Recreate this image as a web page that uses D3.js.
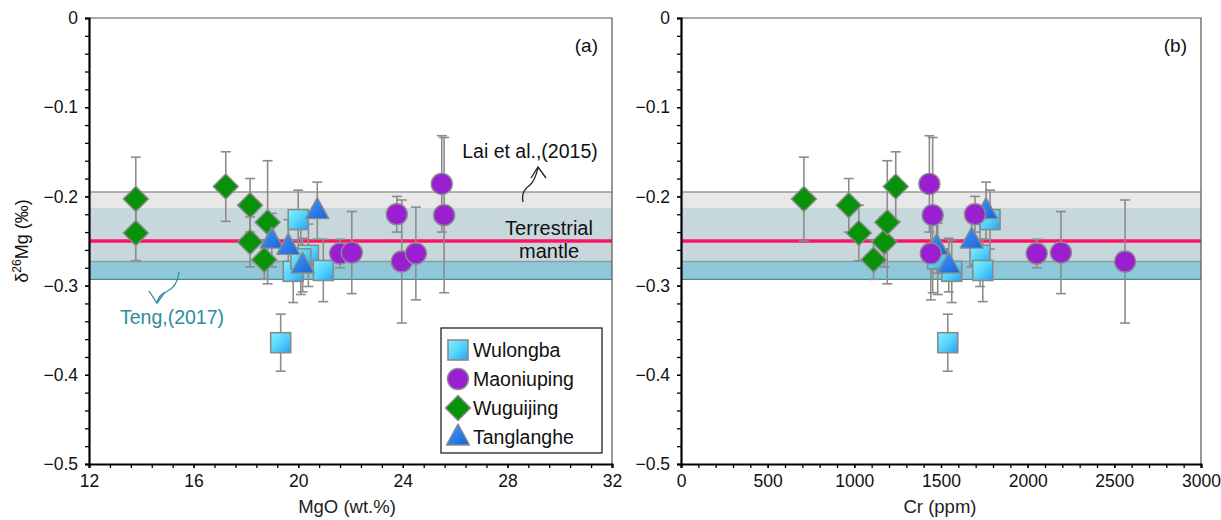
<!DOCTYPE html>
<html>
<head>
<meta charset="utf-8">
<script src="https://cdn.jsdelivr.net/npm/d3@7"></script>
<style>
  html, body { margin: 0; padding: 0; background: #fff; }
  svg { display: block; }
  text { font-family: "Liberation Sans", Arial, sans-serif; }
</style>
</head>
<body>
<svg id="chart" width="1221" height="520"></svg>
<script>
// δ26Mg versus MgO (a) and Cr (b) for four intrusions
const wulongbaMgO = [20.00, 20.39, 19.81, 20.96, 19.33, 20.10];
const wulongbaCr  = [1783, 1725, 1562, 1741, 1539, 1481];
const wulongbaD   = [-0.226, -0.266, -0.284, -0.283, -0.364, -0.270];
const wulongbaErr = [0.033, 0.035, 0.035, 0.035, 0.032, 0.040];

const maoniupingMgO = [25.49, 25.58, 23.77, 23.96, 24.50, 21.60, 22.05];
const maoniupingCr  = [1433, 1452, 1696, 2562, 1441, 2052, 2192];
const maoniupingD   = [-0.186, -0.221, -0.220, -0.273, -0.264, -0.264, -0.263];
const maoniupingErr = [0.054, 0.087, 0.020, 0.069, 0.052, 0.016, 0.046];

const wuguijingMgO = [13.79, 13.79, 17.23, 18.16, 18.16, 18.83, 18.70];
const wuguijingCr  = [709, 1026, 1239, 968, 1173, 1190, 1111];
const wuguijingD   = [-0.203, -0.241, -0.189, -0.210, -0.251, -0.229, -0.271];
const wuguijingErr = [0.047, 0.031, 0.039, 0.030, 0.028, 0.069, 0.022];

const tanglangheMgO = [20.73, 18.99, 19.62, 20.17];
const tanglangheCr  = [1760, 1677, 1475, 1545];
const tanglangheD   = [-0.216, -0.249, -0.256, -0.277];
const tanglangheErr = [0.032, 0.030, 0.030, 0.030];

// reference mantle ranges
const laiRange  = [-0.195, -0.273];   // Lai et al. (2015)
const tengRange = [-0.213, -0.293];   // Teng (2017)
const mantleMean = -0.25;

const seriesNames = ["Wulongba", "Maoniuping", "Wuguijing", "Tanglanghe"];
const yTicks = [0, -0.1, -0.2, -0.3, -0.4, -0.5];
const mgoTicks = [12, 16, 20, 24, 28, 32];
const crTicks = [0, 500, 1000, 1500, 2000, 2500, 3000];

const svg = d3.select("#chart");
const defs = svg.append("defs");

const gSq = defs.append("linearGradient").attr("id", "gradSquare")
  .attr("x1", "0%").attr("y1", "0%").attr("x2", "100%").attr("y2", "100%");
gSq.append("stop").attr("offset", "0%").attr("stop-color", "#86f2ff");
gSq.append("stop").attr("offset", "55%").attr("stop-color", "#4fd0fb");
gSq.append("stop").attr("offset", "100%").attr("stop-color", "#2a9fef");

const gTri = defs.append("linearGradient").attr("id", "gradTri")
  .attr("x1", "0%").attr("y1", "0%").attr("x2", "100%").attr("y2", "100%");
gTri.append("stop").attr("offset", "0%").attr("stop-color", "#3f9cf6");
gTri.append("stop").attr("offset", "100%").attr("stop-color", "#1a62da");

const plotTop = 18, plotBottom = 464;
const y = d3.scaleLinear().domain([-0.5, 0]).range([plotBottom, plotTop]);

function buildSeries(xs) {
  return [
    { name: "Wulongba", xv: xs[0], d: wulongbaD, err: wulongbaErr, shape: "square" },
    { name: "Wuguijing", xv: xs[2], d: wuguijingD, err: wuguijingErr, shape: "diamond" },
    { name: "Tanglanghe", xv: xs[3], d: tanglangheD, err: tanglangheErr, shape: "triangle" },
    { name: "Maoniuping", xv: xs[1], d: maoniupingD, err: maoniupingErr, shape: "circle" }
  ];
}

function drawMarker(g, shape, cx, cy) {
  const stroke = "#8a8a8a";
  if (shape === "square") {
    g.append("rect").attr("x", cx - 10).attr("y", cy - 10).attr("width", 20).attr("height", 20)
      .attr("fill", "url(#gradSquare)").attr("stroke", stroke).attr("stroke-width", 1.6);
  } else if (shape === "circle") {
    g.append("circle").attr("cx", cx).attr("cy", cy).attr("r", 10.5)
      .attr("fill", "#9a1fd2").attr("stroke", stroke).attr("stroke-width", 1.4);
  } else if (shape === "diamond") {
    const r = 12.5;
    g.append("path").attr("d", `M${cx},${cy - r}L${cx + r},${cy}L${cx},${cy + r}L${cx - r},${cy}Z`)
      .attr("fill", "#08920a").attr("stroke", stroke).attr("stroke-width", 1.4);
  } else if (shape === "triangle") {
    const h = 21, w = 23;
    g.append("path").attr("d", `M${cx},${cy - h * 0.62}L${cx + w / 2},${cy + h * 0.38}L${cx - w / 2},${cy + h * 0.38}Z`)
      .attr("fill", "url(#gradTri)").attr("stroke", stroke).attr("stroke-width", 1.4)
      .attr("stroke-linejoin", "round");
  }
}

function panel(opts) {
  const x = d3.scaleLinear().domain(opts.domain).range([opts.left, opts.right]);
  const g = svg.append("g");

  // mantle bands
  g.append("rect").attr("x", opts.left).attr("width", opts.right - opts.left)
    .attr("y", y(tengRange[0])).attr("height", y(tengRange[1]) - y(tengRange[0]))
    .attr("fill", "#8fc8d8");
  g.append("rect").attr("x", opts.left).attr("width", opts.right - opts.left)
    .attr("y", y(laiRange[0])).attr("height", y(laiRange[1]) - y(laiRange[0]))
    .attr("fill", "#dedede").attr("fill-opacity", 0.7);
  g.append("line").attr("x1", opts.left).attr("x2", opts.right)
    .attr("y1", y(laiRange[0])).attr("y2", y(laiRange[0])).attr("stroke", "#9a9a9a").attr("stroke-width", 1.5);
  g.append("line").attr("x1", opts.left).attr("x2", opts.right)
    .attr("y1", y(laiRange[1])).attr("y2", y(laiRange[1])).attr("stroke", "#8f9a9c").attr("stroke-width", 1.5);
  g.append("line").attr("x1", opts.left).attr("x2", opts.right)
    .attr("y1", y(tengRange[1])).attr("y2", y(tengRange[1])).attr("stroke", "#3f8fa0").attr("stroke-width", 1.3);
  g.append("line").attr("x1", opts.left).attr("x2", opts.right)
    .attr("y1", y(mantleMean)).attr("y2", y(mantleMean)).attr("stroke", "#ff1464").attr("stroke-width", 3.6);

  // frame top and right
  g.append("path").attr("d", `M${opts.left},${plotTop}H${opts.right}V${plotBottom}`)
    .attr("fill", "none").attr("stroke", "#555").attr("stroke-width", 1.2);

  const series = buildSeries(opts.xs);

  // error bars
  const eg = g.append("g").attr("stroke", "#8c8c8c").attr("stroke-width", 1.6).attr("fill", "none");
  series.forEach(s => {
    s.d.forEach((v, i) => {
      const cx = x(s.xv[i]);
      const y1 = y(v + s.err[i]), y2 = y(v - s.err[i]);
      eg.append("line").attr("x1", cx).attr("x2", cx).attr("y1", y1).attr("y2", y2);
      eg.append("line").attr("x1", cx - 5).attr("x2", cx + 5).attr("y1", y1).attr("y2", y1);
      eg.append("line").attr("x1", cx - 5).attr("x2", cx + 5).attr("y1", y2).attr("y2", y2);
    });
  });

  // markers
  series.forEach(s => {
    const mg = g.append("g");
    s.d.forEach((v, i) => drawMarker(mg, s.shape, x(s.xv[i]), y(v)));
  });

  // axes
  const yAxis = d3.axisLeft(y).tickValues(yTicks).tickFormat(d => d === 0 ? "0" : d3.format(".1f")(d))
    .tickSize(4).tickPadding(7);
  const ya = g.append("g").attr("transform", `translate(${opts.left},0)`).call(yAxis);
  const yMinor = d3.axisLeft(y).tickValues(d3.range(0, 26).map(i => -i * 0.02)).tickSize(4).tickFormat("");
  g.append("g").attr("transform", `translate(${opts.left},0)`).call(yMinor)
    .call(s => s.select(".domain").remove());

  const xAxis = d3.axisBottom(x).tickValues(opts.ticks).tickSize(4).tickPadding(7).tickFormat(d3.format("d"));
  const xa = g.append("g").attr("transform", `translate(0,${plotBottom})`).call(xAxis);
  const xMinor = d3.axisBottom(x).tickValues(d3.range(opts.domain[0], opts.domain[1] + 1e-9, opts.minor)).tickSize(4).tickFormat("");
  g.append("g").attr("transform", `translate(0,${plotBottom})`).call(xMinor)
    .call(s => s.select(".domain").remove());

  [ya, xa].forEach(a => {
    a.select(".domain").attr("stroke", "#000").attr("stroke-width", 2.2);
    a.selectAll(".tick text").attr("font-size", 17.5).attr("fill", "#111")
      .attr("font-family", "'Liberation Sans', Arial, sans-serif");
  });
  g.selectAll(".tick line").attr("stroke", "#000").attr("stroke-width", 1.3);

  // axis title
  g.append("text").attr("x", opts.titleX).attr("y", 513)
    .attr("text-anchor", "middle").attr("font-size", 18.5).attr("fill", "#222")
    .attr("font-family", "'Open Sans', 'Noto Sans', sans-serif")
    .text(opts.title);

  // panel tag
  g.append("text").attr("x", opts.right - 14).attr("y", 52).attr("text-anchor", "end")
    .attr("font-size", 19).attr("fill", "#111").text(opts.tag);

  return { x, g };
}

const pa = panel({ left: 89, right: 612, domain: [12, 32], ticks: mgoTicks, minor: 0.8, titleX: 347,
  xs: [wulongbaMgO, maoniupingMgO, wuguijingMgO, tanglangheMgO], title: "MgO (wt.%)", tag: "(a)" });
const pb = panel({ left: 681, right: 1201, domain: [0, 3000], ticks: crTicks, minor: 100, titleX: 940,
  xs: [wulongbaCr, maoniupingCr, wuguijingCr, tanglangheCr], title: "Cr (ppm)", tag: "(b)" });

// y axis title
const yt = svg.append("text").attr("transform", "translate(28,241) rotate(-90)")
  .attr("text-anchor", "middle").attr("font-size", 18).attr("fill", "#111");
yt.append("tspan").text("δ");
yt.append("tspan").attr("font-size", 12).attr("dy", -7).text("26");
yt.append("tspan").attr("dy", 7).text("Mg (‰)");

// annotations in panel (a)
const ga = pa.g;
ga.append("text").attr("x", 530).attr("y", 158).attr("text-anchor", "middle")
  .attr("font-size", 19.5).attr("fill", "#111").text("Lai et al.,(2015)");
ga.append("path").attr("d", "M523,202 C521,192 526,188 531,184 C535,180 536,175 538,168")
  .attr("fill", "none").attr("stroke", "#222").attr("stroke-width", 1.3);
ga.append("path").attr("d", "M531,178 L538,167 L546,178")
  .attr("fill", "none").attr("stroke", "#222").attr("stroke-width", 1.3);

ga.append("text").attr("x", 549).attr("y", 235).attr("text-anchor", "middle")
  .attr("font-size", 20).attr("fill", "#111").text("Terrestrial");
ga.append("text").attr("x", 549).attr("y", 258).attr("text-anchor", "middle")
  .attr("font-size", 20).attr("fill", "#111").text("mantle");

ga.append("text").attr("x", 172).attr("y", 324).attr("text-anchor", "middle")
  .attr("font-size", 19.5).attr("fill", "#2d8b9d").text("Teng,(2017)");
ga.append("path").attr("d", "M179,272 C178,282 173,289 166,292 C160,294 158,298 157,303")
  .attr("fill", "none").attr("stroke", "#2d8b9d").attr("stroke-width", 1.3);
ga.append("path").attr("d", "M149,291 L157,303 L165,292")
  .attr("fill", "none").attr("stroke", "#2d8b9d").attr("stroke-width", 1.3);

// legend
const lg = ga.append("g");
lg.append("rect").attr("x", 441).attr("y", 328).attr("width", 161).attr("height", 125)
  .attr("fill", "#fff").attr("stroke", "#111").attr("stroke-width", 1.2);
const legendShapes = { Wulongba: "square", Maoniuping: "circle", Wuguijing: "diamond", Tanglanghe: "triangle" };
seriesNames.forEach((n, i) => {
  const cy = 350 + i * 29;
  drawMarker(lg, legendShapes[n], 458, cy);
  lg.append("text").attr("x", 473).attr("y", cy + 7).attr("font-size", 19.5).attr("fill", "#111").text(n);
});
</script>
</body>
</html>
